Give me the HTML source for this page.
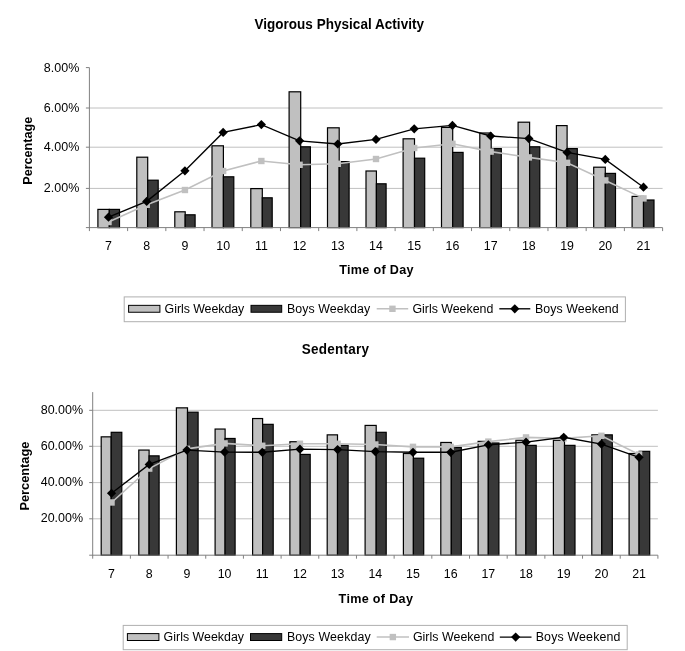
<!DOCTYPE html>
<html><head><meta charset="utf-8"><title>Chart</title>
<style>
html,body{margin:0;padding:0;background:#fff;}
svg{display:block;will-change:transform;font-family:"Liberation Sans",sans-serif;fill:#000;}
text{fill:#000;}
</style></head><body>
<svg width="685" height="651" viewBox="0 0 685 651">
<rect x="0" y="0" width="685" height="651" fill="#fff"/>
<line x1="89.4" y1="188.40" x2="662.6" y2="188.40" stroke="#c0c0c0" stroke-width="1"/>
<line x1="89.4" y1="147.20" x2="662.6" y2="147.20" stroke="#c0c0c0" stroke-width="1"/>
<line x1="89.4" y1="108.00" x2="662.6" y2="108.00" stroke="#c0c0c0" stroke-width="1"/>
<rect x="97.90" y="209.40" width="11.40" height="18.20" fill="#c0c0c0" stroke="#000" stroke-width="1.2"/>
<rect x="109.30" y="209.40" width="10.20" height="18.20" fill="#383838" stroke="#000" stroke-width="1.2"/>
<rect x="136.80" y="157.20" width="10.90" height="70.40" fill="#c0c0c0" stroke="#000" stroke-width="1.2"/>
<rect x="147.70" y="180.20" width="10.50" height="47.40" fill="#383838" stroke="#000" stroke-width="1.2"/>
<rect x="174.80" y="211.80" width="10.40" height="15.80" fill="#c0c0c0" stroke="#000" stroke-width="1.2"/>
<rect x="185.20" y="214.80" width="9.90" height="12.80" fill="#383838" stroke="#000" stroke-width="1.2"/>
<rect x="212.00" y="145.80" width="11.40" height="81.80" fill="#c0c0c0" stroke="#000" stroke-width="1.2"/>
<rect x="223.40" y="176.80" width="10.40" height="50.80" fill="#383838" stroke="#000" stroke-width="1.2"/>
<rect x="250.80" y="188.60" width="11.50" height="39.00" fill="#c0c0c0" stroke="#000" stroke-width="1.2"/>
<rect x="262.30" y="197.80" width="9.90" height="29.80" fill="#383838" stroke="#000" stroke-width="1.2"/>
<rect x="289.10" y="91.80" width="11.60" height="135.80" fill="#c0c0c0" stroke="#000" stroke-width="1.2"/>
<rect x="300.70" y="146.80" width="9.70" height="80.80" fill="#383838" stroke="#000" stroke-width="1.2"/>
<rect x="327.50" y="127.80" width="11.70" height="99.80" fill="#c0c0c0" stroke="#000" stroke-width="1.2"/>
<rect x="339.20" y="161.60" width="9.90" height="66.00" fill="#383838" stroke="#000" stroke-width="1.2"/>
<rect x="366.00" y="171.00" width="10.40" height="56.60" fill="#c0c0c0" stroke="#000" stroke-width="1.2"/>
<rect x="376.40" y="183.80" width="9.70" height="43.80" fill="#383838" stroke="#000" stroke-width="1.2"/>
<rect x="403.10" y="138.80" width="11.40" height="88.80" fill="#c0c0c0" stroke="#000" stroke-width="1.2"/>
<rect x="414.50" y="158.20" width="10.20" height="69.40" fill="#383838" stroke="#000" stroke-width="1.2"/>
<rect x="441.50" y="127.40" width="11.20" height="100.20" fill="#c0c0c0" stroke="#000" stroke-width="1.2"/>
<rect x="452.70" y="152.40" width="10.40" height="75.20" fill="#383838" stroke="#000" stroke-width="1.2"/>
<rect x="479.80" y="133.00" width="11.40" height="94.60" fill="#c0c0c0" stroke="#000" stroke-width="1.2"/>
<rect x="491.20" y="148.60" width="10.10" height="79.00" fill="#383838" stroke="#000" stroke-width="1.2"/>
<rect x="518.10" y="122.20" width="11.50" height="105.40" fill="#c0c0c0" stroke="#000" stroke-width="1.2"/>
<rect x="529.60" y="146.80" width="10.20" height="80.80" fill="#383838" stroke="#000" stroke-width="1.2"/>
<rect x="556.40" y="125.60" width="10.70" height="102.00" fill="#c0c0c0" stroke="#000" stroke-width="1.2"/>
<rect x="567.10" y="148.60" width="10.20" height="79.00" fill="#383838" stroke="#000" stroke-width="1.2"/>
<rect x="593.70" y="167.20" width="11.60" height="60.40" fill="#c0c0c0" stroke="#000" stroke-width="1.2"/>
<rect x="605.30" y="173.40" width="10.20" height="54.20" fill="#383838" stroke="#000" stroke-width="1.2"/>
<rect x="632.10" y="196.40" width="11.40" height="31.20" fill="#c0c0c0" stroke="#000" stroke-width="1.2"/>
<rect x="643.50" y="200.00" width="10.50" height="27.60" fill="#383838" stroke="#000" stroke-width="1.2"/>
<line x1="89.4" y1="67.60" x2="89.4" y2="228.1" stroke="#808080" stroke-width="1"/>
<line x1="85.9" y1="227.6" x2="662.6" y2="227.6" stroke="#808080" stroke-width="1"/>
<line x1="85.9" y1="188.40" x2="89.4" y2="188.40" stroke="#808080" stroke-width="1"/>
<text transform="translate(79.3,191.50) scale(1,1.075)" text-anchor="end" font-size="12.5">2.00%</text>
<line x1="85.9" y1="147.20" x2="89.4" y2="147.20" stroke="#808080" stroke-width="1"/>
<text transform="translate(79.3,151.40) scale(1,1.075)" text-anchor="end" font-size="12.5">4.00%</text>
<line x1="85.9" y1="108.00" x2="89.4" y2="108.00" stroke="#808080" stroke-width="1"/>
<text transform="translate(79.3,112.20) scale(1,1.075)" text-anchor="end" font-size="12.5">6.00%</text>
<line x1="85.9" y1="67.60" x2="89.4" y2="67.60" stroke="#808080" stroke-width="1"/>
<text transform="translate(79.3,71.70) scale(1,1.075)" text-anchor="end" font-size="12.5">8.00%</text>
<line x1="89.40" y1="227.6" x2="89.40" y2="231.1" stroke="#808080" stroke-width="1"/>
<line x1="127.61" y1="227.6" x2="127.61" y2="231.1" stroke="#808080" stroke-width="1"/>
<line x1="165.83" y1="227.6" x2="165.83" y2="231.1" stroke="#808080" stroke-width="1"/>
<line x1="204.04" y1="227.6" x2="204.04" y2="231.1" stroke="#808080" stroke-width="1"/>
<line x1="242.25" y1="227.6" x2="242.25" y2="231.1" stroke="#808080" stroke-width="1"/>
<line x1="280.47" y1="227.6" x2="280.47" y2="231.1" stroke="#808080" stroke-width="1"/>
<line x1="318.68" y1="227.6" x2="318.68" y2="231.1" stroke="#808080" stroke-width="1"/>
<line x1="356.89" y1="227.6" x2="356.89" y2="231.1" stroke="#808080" stroke-width="1"/>
<line x1="395.11" y1="227.6" x2="395.11" y2="231.1" stroke="#808080" stroke-width="1"/>
<line x1="433.32" y1="227.6" x2="433.32" y2="231.1" stroke="#808080" stroke-width="1"/>
<line x1="471.53" y1="227.6" x2="471.53" y2="231.1" stroke="#808080" stroke-width="1"/>
<line x1="509.75" y1="227.6" x2="509.75" y2="231.1" stroke="#808080" stroke-width="1"/>
<line x1="547.96" y1="227.6" x2="547.96" y2="231.1" stroke="#808080" stroke-width="1"/>
<line x1="586.17" y1="227.6" x2="586.17" y2="231.1" stroke="#808080" stroke-width="1"/>
<line x1="624.39" y1="227.6" x2="624.39" y2="231.1" stroke="#808080" stroke-width="1"/>
<line x1="662.60" y1="227.6" x2="662.60" y2="231.1" stroke="#808080" stroke-width="1"/>
<text transform="translate(108.51,250.4) scale(1,1.075)" text-anchor="middle" font-size="12.4">7</text>
<text transform="translate(146.72,250.4) scale(1,1.075)" text-anchor="middle" font-size="12.4">8</text>
<text transform="translate(184.93,250.4) scale(1,1.075)" text-anchor="middle" font-size="12.4">9</text>
<text transform="translate(223.15,250.4) scale(1,1.075)" text-anchor="middle" font-size="12.4">10</text>
<text transform="translate(261.36,250.4) scale(1,1.075)" text-anchor="middle" font-size="12.4">11</text>
<text transform="translate(299.57,250.4) scale(1,1.075)" text-anchor="middle" font-size="12.4">12</text>
<text transform="translate(337.79,250.4) scale(1,1.075)" text-anchor="middle" font-size="12.4">13</text>
<text transform="translate(376.00,250.4) scale(1,1.075)" text-anchor="middle" font-size="12.4">14</text>
<text transform="translate(414.21,250.4) scale(1,1.075)" text-anchor="middle" font-size="12.4">15</text>
<text transform="translate(452.43,250.4) scale(1,1.075)" text-anchor="middle" font-size="12.4">16</text>
<text transform="translate(490.64,250.4) scale(1,1.075)" text-anchor="middle" font-size="12.4">17</text>
<text transform="translate(528.85,250.4) scale(1,1.075)" text-anchor="middle" font-size="12.4">18</text>
<text transform="translate(567.07,250.4) scale(1,1.075)" text-anchor="middle" font-size="12.4">19</text>
<text transform="translate(605.28,250.4) scale(1,1.075)" text-anchor="middle" font-size="12.4">20</text>
<text transform="translate(643.49,250.4) scale(1,1.075)" text-anchor="middle" font-size="12.4">21</text>
<polyline points="108.51,222.00 146.72,204.80 184.93,190.00 223.15,171.00 261.36,161.00 299.57,164.80 337.79,163.80 376.00,159.00 414.21,148.00 452.43,143.80 490.64,151.60 528.85,157.40 567.07,162.80 605.28,180.40 643.49,198.40" fill="none" stroke="#c0c0c0" stroke-width="1.6"/>
<rect x="105.31" y="218.80" width="6.4" height="6.4" fill="#c0c0c0"/>
<rect x="143.52" y="201.60" width="6.4" height="6.4" fill="#c0c0c0"/>
<rect x="181.73" y="186.80" width="6.4" height="6.4" fill="#c0c0c0"/>
<rect x="219.95" y="167.80" width="6.4" height="6.4" fill="#c0c0c0"/>
<rect x="258.16" y="157.80" width="6.4" height="6.4" fill="#c0c0c0"/>
<rect x="296.37" y="161.60" width="6.4" height="6.4" fill="#c0c0c0"/>
<rect x="334.59" y="160.60" width="6.4" height="6.4" fill="#c0c0c0"/>
<rect x="372.80" y="155.80" width="6.4" height="6.4" fill="#c0c0c0"/>
<rect x="411.01" y="144.80" width="6.4" height="6.4" fill="#c0c0c0"/>
<rect x="449.23" y="140.60" width="6.4" height="6.4" fill="#c0c0c0"/>
<rect x="487.44" y="148.40" width="6.4" height="6.4" fill="#c0c0c0"/>
<rect x="525.65" y="154.20" width="6.4" height="6.4" fill="#c0c0c0"/>
<rect x="563.87" y="159.60" width="6.4" height="6.4" fill="#c0c0c0"/>
<rect x="602.08" y="177.20" width="6.4" height="6.4" fill="#c0c0c0"/>
<rect x="640.29" y="195.20" width="6.4" height="6.4" fill="#c0c0c0"/>
<polyline points="108.51,217.20 146.72,201.40 184.93,170.80 223.15,132.40 261.36,124.60 299.57,140.80 337.79,144.00 376.00,139.40 414.21,128.80 452.43,125.40 490.64,136.00 528.85,138.60 567.07,152.40 605.28,159.40 643.49,187.20" fill="none" stroke="#000" stroke-width="1.35"/>
<path d="M108.51,212.60 L113.11,217.20 L108.51,221.80 L103.91,217.20 Z" fill="#000"/>
<path d="M146.72,196.80 L151.32,201.40 L146.72,206.00 L142.12,201.40 Z" fill="#000"/>
<path d="M184.93,166.20 L189.53,170.80 L184.93,175.40 L180.33,170.80 Z" fill="#000"/>
<path d="M223.15,127.80 L227.75,132.40 L223.15,137.00 L218.55,132.40 Z" fill="#000"/>
<path d="M261.36,120.00 L265.96,124.60 L261.36,129.20 L256.76,124.60 Z" fill="#000"/>
<path d="M299.57,136.20 L304.17,140.80 L299.57,145.40 L294.97,140.80 Z" fill="#000"/>
<path d="M337.79,139.40 L342.39,144.00 L337.79,148.60 L333.19,144.00 Z" fill="#000"/>
<path d="M376.00,134.80 L380.60,139.40 L376.00,144.00 L371.40,139.40 Z" fill="#000"/>
<path d="M414.21,124.20 L418.81,128.80 L414.21,133.40 L409.61,128.80 Z" fill="#000"/>
<path d="M452.43,120.80 L457.03,125.40 L452.43,130.00 L447.83,125.40 Z" fill="#000"/>
<path d="M490.64,131.40 L495.24,136.00 L490.64,140.60 L486.04,136.00 Z" fill="#000"/>
<path d="M528.85,134.00 L533.45,138.60 L528.85,143.20 L524.25,138.60 Z" fill="#000"/>
<path d="M567.07,147.80 L571.67,152.40 L567.07,157.00 L562.47,152.40 Z" fill="#000"/>
<path d="M605.28,154.80 L609.88,159.40 L605.28,164.00 L600.68,159.40 Z" fill="#000"/>
<path d="M643.49,182.60 L648.09,187.20 L643.49,191.80 L638.89,187.20 Z" fill="#000"/>
<text transform="translate(254.4,28.6) scale(1,1.075)" textLength="169.6" font-size="13.5" font-weight="bold">Vigorous Physical Activity</text>
<text transform="translate(339.3,274.3) scale(1,1.04)" textLength="74.2" font-size="12.6" font-weight="bold">Time of Day</text>
<text transform="translate(32.4,150.8) rotate(-90)" text-anchor="middle" font-size="12.6" font-weight="bold">Percentage</text>
<rect x="124.2" y="296.9" width="501.20" height="24.80" fill="#fff" stroke="#b0b0b0" stroke-width="1"/>
<rect x="128.6" y="305.35" width="31.30" height="6.9" fill="#c0c0c0" stroke="#000" stroke-width="1"/>
<rect x="251" y="305.35" width="30.70" height="6.9" fill="#383838" stroke="#000" stroke-width="1"/>
<line x1="376.7" y1="308.80" x2="408.2" y2="308.80" stroke="#c0c0c0" stroke-width="1.6"/>
<rect x="389.25" y="305.60" width="6.4" height="6.4" fill="#c0c0c0"/>
<line x1="499.3" y1="308.80" x2="530.3" y2="308.80" stroke="#000" stroke-width="1.35"/>
<path d="M514.80,304.20 L519.40,308.80 L514.80,313.40 L510.20,308.80 Z" fill="#000"/>
<text transform="translate(164.6,312.90) scale(1,1.075)" font-size="12.4" textLength="79.7" lengthAdjust="spacing">Girls Weekday</text>
<text transform="translate(286.9,312.90) scale(1,1.075)" font-size="12.4" textLength="83.3" lengthAdjust="spacing">Boys Weekday</text>
<text transform="translate(412.4,312.90) scale(1,1.075)" font-size="12.4" textLength="80.9" lengthAdjust="spacing">Girls Weekend</text>
<text transform="translate(534.9,312.90) scale(1,1.075)" font-size="12.4" textLength="83.8" lengthAdjust="spacing">Boys Weekend</text>
<line x1="92.7" y1="518.80" x2="657.9" y2="518.80" stroke="#c0c0c0" stroke-width="1"/>
<line x1="92.7" y1="482.60" x2="657.9" y2="482.60" stroke="#c0c0c0" stroke-width="1"/>
<line x1="92.7" y1="446.30" x2="657.9" y2="446.30" stroke="#c0c0c0" stroke-width="1"/>
<line x1="92.7" y1="410.30" x2="657.9" y2="410.30" stroke="#c0c0c0" stroke-width="1"/>
<rect x="101.20" y="436.84" width="10.00" height="118.36" fill="#c0c0c0" stroke="#000" stroke-width="1.2"/>
<rect x="111.20" y="432.31" width="10.60" height="122.89" fill="#383838" stroke="#000" stroke-width="1.2"/>
<rect x="138.80" y="450.07" width="10.30" height="105.13" fill="#c0c0c0" stroke="#000" stroke-width="1.2"/>
<rect x="149.10" y="455.86" width="10.00" height="99.34" fill="#383838" stroke="#000" stroke-width="1.2"/>
<rect x="176.40" y="407.85" width="11.10" height="147.35" fill="#c0c0c0" stroke="#000" stroke-width="1.2"/>
<rect x="187.50" y="412.20" width="10.60" height="143.00" fill="#383838" stroke="#000" stroke-width="1.2"/>
<rect x="215.10" y="429.05" width="10.00" height="126.15" fill="#c0c0c0" stroke="#000" stroke-width="1.2"/>
<rect x="225.10" y="438.47" width="10.00" height="116.73" fill="#383838" stroke="#000" stroke-width="1.2"/>
<rect x="252.60" y="418.54" width="10.00" height="136.66" fill="#c0c0c0" stroke="#000" stroke-width="1.2"/>
<rect x="262.60" y="424.34" width="10.60" height="130.86" fill="#383838" stroke="#000" stroke-width="1.2"/>
<rect x="289.90" y="441.73" width="10.30" height="113.47" fill="#c0c0c0" stroke="#000" stroke-width="1.2"/>
<rect x="300.20" y="454.42" width="10.00" height="100.78" fill="#383838" stroke="#000" stroke-width="1.2"/>
<rect x="327.20" y="434.85" width="10.30" height="120.35" fill="#c0c0c0" stroke="#000" stroke-width="1.2"/>
<rect x="337.50" y="445.36" width="10.60" height="109.84" fill="#383838" stroke="#000" stroke-width="1.2"/>
<rect x="365.10" y="425.42" width="11.10" height="129.78" fill="#c0c0c0" stroke="#000" stroke-width="1.2"/>
<rect x="376.20" y="432.31" width="10.00" height="122.89" fill="#383838" stroke="#000" stroke-width="1.2"/>
<rect x="403.40" y="453.51" width="10.00" height="101.69" fill="#c0c0c0" stroke="#000" stroke-width="1.2"/>
<rect x="413.40" y="458.22" width="10.30" height="96.98" fill="#383838" stroke="#000" stroke-width="1.2"/>
<rect x="440.80" y="442.46" width="10.50" height="112.74" fill="#c0c0c0" stroke="#000" stroke-width="1.2"/>
<rect x="451.30" y="447.53" width="10.00" height="107.67" fill="#383838" stroke="#000" stroke-width="1.2"/>
<rect x="478.10" y="441.37" width="10.20" height="113.83" fill="#c0c0c0" stroke="#000" stroke-width="1.2"/>
<rect x="488.30" y="443.00" width="10.60" height="112.20" fill="#383838" stroke="#000" stroke-width="1.2"/>
<rect x="515.90" y="440.28" width="10.00" height="114.92" fill="#c0c0c0" stroke="#000" stroke-width="1.2"/>
<rect x="525.90" y="445.36" width="10.30" height="109.84" fill="#383838" stroke="#000" stroke-width="1.2"/>
<rect x="553.40" y="440.28" width="11.10" height="114.92" fill="#c0c0c0" stroke="#000" stroke-width="1.2"/>
<rect x="564.50" y="445.36" width="10.50" height="109.84" fill="#383838" stroke="#000" stroke-width="1.2"/>
<rect x="591.80" y="434.85" width="10.00" height="120.35" fill="#c0c0c0" stroke="#000" stroke-width="1.2"/>
<rect x="601.80" y="434.85" width="10.50" height="120.35" fill="#383838" stroke="#000" stroke-width="1.2"/>
<rect x="629.10" y="453.51" width="10.00" height="101.69" fill="#c0c0c0" stroke="#000" stroke-width="1.2"/>
<rect x="639.10" y="451.33" width="10.60" height="103.87" fill="#383838" stroke="#000" stroke-width="1.2"/>
<line x1="92.7" y1="392.12" x2="92.7" y2="555.7" stroke="#808080" stroke-width="1"/>
<line x1="89.2" y1="555.2" x2="657.9" y2="555.2" stroke="#808080" stroke-width="1"/>
<line x1="89.2" y1="518.80" x2="92.7" y2="518.80" stroke="#808080" stroke-width="1"/>
<text transform="translate(83.1,522.40) scale(1,1.075)" text-anchor="end" font-size="12.5">20.00%</text>
<line x1="89.2" y1="482.60" x2="92.7" y2="482.60" stroke="#808080" stroke-width="1"/>
<text transform="translate(83.1,486.20) scale(1,1.075)" text-anchor="end" font-size="12.5">40.00%</text>
<line x1="89.2" y1="446.30" x2="92.7" y2="446.30" stroke="#808080" stroke-width="1"/>
<text transform="translate(83.1,449.90) scale(1,1.075)" text-anchor="end" font-size="12.5">60.00%</text>
<line x1="89.2" y1="410.30" x2="92.7" y2="410.30" stroke="#808080" stroke-width="1"/>
<text transform="translate(83.1,413.90) scale(1,1.075)" text-anchor="end" font-size="12.5">80.00%</text>
<line x1="92.70" y1="555.2" x2="92.70" y2="558.7" stroke="#808080" stroke-width="1"/>
<line x1="130.38" y1="555.2" x2="130.38" y2="558.7" stroke="#808080" stroke-width="1"/>
<line x1="168.06" y1="555.2" x2="168.06" y2="558.7" stroke="#808080" stroke-width="1"/>
<line x1="205.74" y1="555.2" x2="205.74" y2="558.7" stroke="#808080" stroke-width="1"/>
<line x1="243.42" y1="555.2" x2="243.42" y2="558.7" stroke="#808080" stroke-width="1"/>
<line x1="281.10" y1="555.2" x2="281.10" y2="558.7" stroke="#808080" stroke-width="1"/>
<line x1="318.78" y1="555.2" x2="318.78" y2="558.7" stroke="#808080" stroke-width="1"/>
<line x1="356.46" y1="555.2" x2="356.46" y2="558.7" stroke="#808080" stroke-width="1"/>
<line x1="394.14" y1="555.2" x2="394.14" y2="558.7" stroke="#808080" stroke-width="1"/>
<line x1="431.82" y1="555.2" x2="431.82" y2="558.7" stroke="#808080" stroke-width="1"/>
<line x1="469.50" y1="555.2" x2="469.50" y2="558.7" stroke="#808080" stroke-width="1"/>
<line x1="507.18" y1="555.2" x2="507.18" y2="558.7" stroke="#808080" stroke-width="1"/>
<line x1="544.86" y1="555.2" x2="544.86" y2="558.7" stroke="#808080" stroke-width="1"/>
<line x1="582.54" y1="555.2" x2="582.54" y2="558.7" stroke="#808080" stroke-width="1"/>
<line x1="620.22" y1="555.2" x2="620.22" y2="558.7" stroke="#808080" stroke-width="1"/>
<line x1="657.90" y1="555.2" x2="657.90" y2="558.7" stroke="#808080" stroke-width="1"/>
<text transform="translate(111.54,577.7) scale(1,1.075)" text-anchor="middle" font-size="12.4">7</text>
<text transform="translate(149.22,577.7) scale(1,1.075)" text-anchor="middle" font-size="12.4">8</text>
<text transform="translate(186.90,577.7) scale(1,1.075)" text-anchor="middle" font-size="12.4">9</text>
<text transform="translate(224.58,577.7) scale(1,1.075)" text-anchor="middle" font-size="12.4">10</text>
<text transform="translate(262.26,577.7) scale(1,1.075)" text-anchor="middle" font-size="12.4">11</text>
<text transform="translate(299.94,577.7) scale(1,1.075)" text-anchor="middle" font-size="12.4">12</text>
<text transform="translate(337.62,577.7) scale(1,1.075)" text-anchor="middle" font-size="12.4">13</text>
<text transform="translate(375.30,577.7) scale(1,1.075)" text-anchor="middle" font-size="12.4">14</text>
<text transform="translate(412.98,577.7) scale(1,1.075)" text-anchor="middle" font-size="12.4">15</text>
<text transform="translate(450.66,577.7) scale(1,1.075)" text-anchor="middle" font-size="12.4">16</text>
<text transform="translate(488.34,577.7) scale(1,1.075)" text-anchor="middle" font-size="12.4">17</text>
<text transform="translate(526.02,577.7) scale(1,1.075)" text-anchor="middle" font-size="12.4">18</text>
<text transform="translate(563.70,577.7) scale(1,1.075)" text-anchor="middle" font-size="12.4">19</text>
<text transform="translate(601.38,577.7) scale(1,1.075)" text-anchor="middle" font-size="12.4">20</text>
<text transform="translate(639.06,577.7) scale(1,1.075)" text-anchor="middle" font-size="12.4">21</text>
<polyline points="111.54,502.47 149.22,468.59 186.90,448.84 224.58,443.40 262.26,445.76 299.94,443.76 337.62,443.76 375.30,444.49 412.98,446.84 450.66,446.84 488.34,441.59 526.02,437.42 563.70,438.33 601.38,435.79 639.06,454.45" fill="none" stroke="#c0c0c0" stroke-width="1.6"/>
<rect x="108.34" y="499.27" width="6.4" height="6.4" fill="#c0c0c0"/>
<rect x="146.02" y="465.39" width="6.4" height="6.4" fill="#c0c0c0"/>
<rect x="183.70" y="445.64" width="6.4" height="6.4" fill="#c0c0c0"/>
<rect x="221.38" y="440.20" width="6.4" height="6.4" fill="#c0c0c0"/>
<rect x="259.06" y="442.56" width="6.4" height="6.4" fill="#c0c0c0"/>
<rect x="296.74" y="440.56" width="6.4" height="6.4" fill="#c0c0c0"/>
<rect x="334.42" y="440.56" width="6.4" height="6.4" fill="#c0c0c0"/>
<rect x="372.10" y="441.29" width="6.4" height="6.4" fill="#c0c0c0"/>
<rect x="409.78" y="443.64" width="6.4" height="6.4" fill="#c0c0c0"/>
<rect x="447.46" y="443.64" width="6.4" height="6.4" fill="#c0c0c0"/>
<rect x="485.14" y="438.39" width="6.4" height="6.4" fill="#c0c0c0"/>
<rect x="522.82" y="434.22" width="6.4" height="6.4" fill="#c0c0c0"/>
<rect x="560.50" y="435.13" width="6.4" height="6.4" fill="#c0c0c0"/>
<rect x="598.18" y="432.59" width="6.4" height="6.4" fill="#c0c0c0"/>
<rect x="635.86" y="451.25" width="6.4" height="6.4" fill="#c0c0c0"/>
<polyline points="111.54,493.23 149.22,464.42 186.90,450.10 224.58,452.10 262.26,452.28 299.94,449.20 337.62,449.56 375.30,451.55 412.98,452.28 450.66,452.28 488.34,444.85 526.02,442.13 563.70,437.24 601.38,444.12 639.06,457.35" fill="none" stroke="#000" stroke-width="1.35"/>
<path d="M111.54,488.63 L116.14,493.23 L111.54,497.83 L106.94,493.23 Z" fill="#000"/>
<path d="M149.22,459.82 L153.82,464.42 L149.22,469.02 L144.62,464.42 Z" fill="#000"/>
<path d="M186.90,445.50 L191.50,450.10 L186.90,454.70 L182.30,450.10 Z" fill="#000"/>
<path d="M224.58,447.50 L229.18,452.10 L224.58,456.70 L219.98,452.10 Z" fill="#000"/>
<path d="M262.26,447.68 L266.86,452.28 L262.26,456.88 L257.66,452.28 Z" fill="#000"/>
<path d="M299.94,444.60 L304.54,449.20 L299.94,453.80 L295.34,449.20 Z" fill="#000"/>
<path d="M337.62,444.96 L342.22,449.56 L337.62,454.16 L333.02,449.56 Z" fill="#000"/>
<path d="M375.30,446.95 L379.90,451.55 L375.30,456.15 L370.70,451.55 Z" fill="#000"/>
<path d="M412.98,447.68 L417.58,452.28 L412.98,456.88 L408.38,452.28 Z" fill="#000"/>
<path d="M450.66,447.68 L455.26,452.28 L450.66,456.88 L446.06,452.28 Z" fill="#000"/>
<path d="M488.34,440.25 L492.94,444.85 L488.34,449.45 L483.74,444.85 Z" fill="#000"/>
<path d="M526.02,437.53 L530.62,442.13 L526.02,446.73 L521.42,442.13 Z" fill="#000"/>
<path d="M563.70,432.64 L568.30,437.24 L563.70,441.84 L559.10,437.24 Z" fill="#000"/>
<path d="M601.38,439.52 L605.98,444.12 L601.38,448.72 L596.78,444.12 Z" fill="#000"/>
<path d="M639.06,452.75 L643.66,457.35 L639.06,461.95 L634.46,457.35 Z" fill="#000"/>
<text transform="translate(301.7,354.1) scale(1,1.075)" textLength="67.3" font-size="13.5" font-weight="bold">Sedentary</text>
<text transform="translate(338.6,602.5) scale(1,1.04)" textLength="74.3" font-size="12.6" font-weight="bold">Time of Day</text>
<text transform="translate(29.0,476.1) rotate(-90)" text-anchor="middle" font-size="12.8" font-weight="bold">Percentage</text>
<rect x="123.2" y="625.4" width="504.00" height="24.30" fill="#fff" stroke="#b0b0b0" stroke-width="1"/>
<rect x="127.4" y="633.60" width="31.50" height="6.9" fill="#c0c0c0" stroke="#000" stroke-width="1"/>
<rect x="250.5" y="633.60" width="31.20" height="6.9" fill="#383838" stroke="#000" stroke-width="1"/>
<line x1="376.7" y1="637.05" x2="409.0" y2="637.05" stroke="#c0c0c0" stroke-width="1.6"/>
<rect x="389.65" y="633.85" width="6.4" height="6.4" fill="#c0c0c0"/>
<line x1="499.8" y1="637.05" x2="531.5" y2="637.05" stroke="#000" stroke-width="1.35"/>
<path d="M515.65,632.45 L520.25,637.05 L515.65,641.65 L511.05,637.05 Z" fill="#000"/>
<text transform="translate(163.6,641.15) scale(1,1.075)" font-size="12.4" textLength="80.4" lengthAdjust="spacing">Girls Weekday</text>
<text transform="translate(286.9,641.15) scale(1,1.075)" font-size="12.4" textLength="83.8" lengthAdjust="spacing">Boys Weekday</text>
<text transform="translate(412.9,641.15) scale(1,1.075)" font-size="12.4" textLength="81.4" lengthAdjust="spacing">Girls Weekend</text>
<text transform="translate(535.7,641.15) scale(1,1.075)" font-size="12.4" textLength="84.8" lengthAdjust="spacing">Boys Weekend</text>
</svg>
</body></html>
